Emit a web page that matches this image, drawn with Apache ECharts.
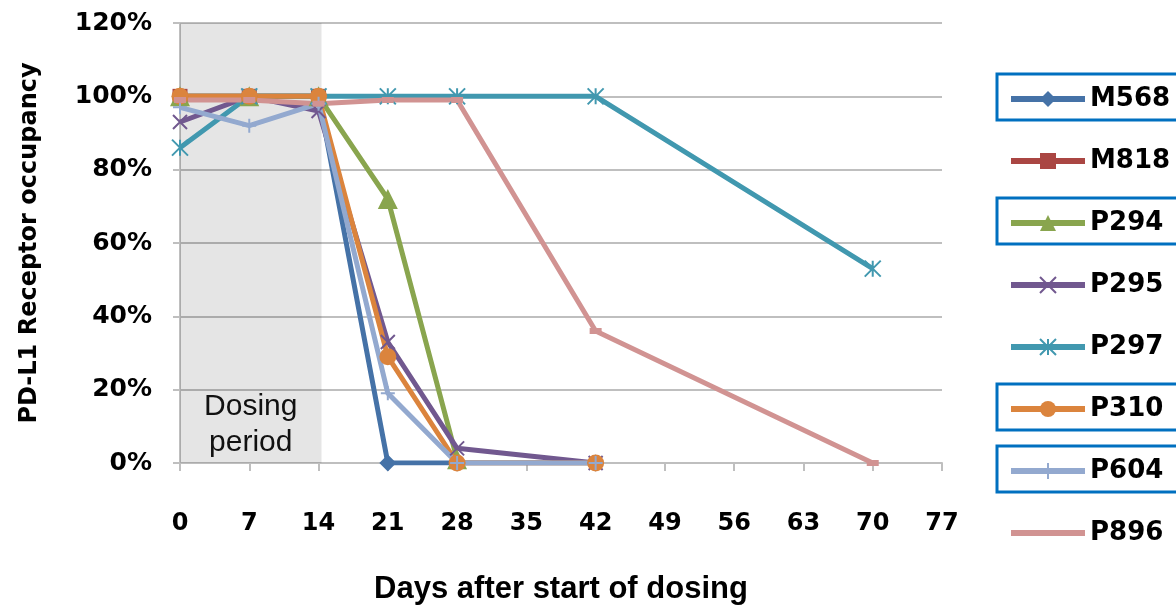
<!DOCTYPE html>
<html>
<head>
<meta charset="utf-8">
<script src="https://cdn.jsdelivr.net/npm/echarts@6/dist/echarts.min.js"></script>
<style>
  html, body { margin: 0; padding: 0; background: #fff; }
  #chart { width: 1176px; height: 606px; }
</style>
</head>
<body>
<div id="chart"></div>
<script>
// days of sampling
const days = [0, 7, 14, 21, 28, 42, 70]
const xTicks = [0, 7, 14, 21, 28, 35, 42, 49, 56, 63, 70, 77]

// receptor occupancy, percent (null = no sample)
const m568 = [100, 100, 100, 0, 0, 0, null]
const m818 = [100, 100, 100, null, null, null, null]
const p294 = [100, 100, 100, 72, 1, null, null]
const p295 = [93, 100, 96, 33, 4, 0, null]
const p297 = [86, 100, 100, 100, 100, 100, 53]
const p310 = [100, 100, 100, 29, 0, 0, null]
const p604 = [97, 92, 98, 19, 0, 0, null]
const p896 = [99, 99, 98, 99, 99, 36, 0]

const seriesNames = ['M568', 'M818', 'P294', 'P295', 'P297', 'P310', 'P604', 'P896']
const seriesValues = [m568, m818, p294, p295, p297, p310, p604, p896]
const boxedNames = ['M568', 'P294', 'P310', 'P604']

// dosing period shading
const dosingStart = 0
const dosingEnd = 14.3

const colors = ['#4572A7', '#AA4643', '#89A54E', '#71588F', '#4198AF', '#DB843D', '#93A9CF', '#D19392']
const symbols = [
  'diamond',
  'rect',
  'triangle',
  'path://M0,0L10,10M10,0L0,10',
  'path://M0,0L10,10M10,0L0,10M5,0L5,10',
  'circle',
  'path://M5,0L5,10M0,5L10,5',
  'rect'
]
const symbolSizes = [17, 15, 20, 14, 16, 17, 14, [12, 6]]
const strokeSymbol = [false, false, false, true, true, false, true, false]

const toPairs = vals => days.map((d, i) => [d, vals[i]]).filter(p => p[1] !== null)

const chart = echarts.init(document.getElementById('chart'))

const series = seriesNames.map((name, i) => {
  const s = {
    name: name,
    type: 'line',
    data: toPairs(seriesValues[i]),
    symbol: symbols[i],
    symbolSize: symbolSizes[i],
    showAllSymbol: true,
    lineStyle: { width: 5, color: colors[i] },
    itemStyle: strokeSymbol[i]
      ? { color: colors[i], borderColor: colors[i], borderWidth: 2 }
      : { color: colors[i] },
    emphasis: { disabled: true },
    animation: false
  }
  if (i === 0) {
    s.markArea = {
      silent: true,
      itemStyle: { color: 'rgba(0,0,0,0.1)' },
      label: {
        show: true,
        position: 'insideBottom',
        distance: 2,
        formatter: 'Dosing\nperiod',
        fontFamily: 'Liberation Sans',
        fontSize: 30,
        lineHeight: 36,
        color: '#111'
      },
      data: [[{ xAxis: dosingStart }, { xAxis: dosingEnd }]]
    }
  }
  return s
})

// blue highlight boxes round some legend items
const legendTop = 85
const legendStep = 62
const boxes = boxedNames.map(n => {
  const idx = seriesNames.indexOf(n)
  const cy = 97 + idx * legendStep
  return {
    type: 'rect',
    shape: { x: 997, y: cy - 23, width: 200, height: 46 },
    style: { fill: 'none', stroke: '#0070C0', lineWidth: 3 },
    z: 100
  }
})

const legendData = seriesNames.map(n => n === 'P896' ? { name: n, itemStyle: { opacity: 0 } } : n)

const option = {
  animation: false,
  color: colors,
  grid: { left: 180, right: 234, top: 23, bottom: 143, outerBoundsMode: 'none' },
  legend: {
    orient: 'vertical',
    left: 1008,
    top: legendTop,
    padding: 0,
    itemWidth: 74,
    itemHeight: 20,
    itemGap: legendStep - 28,
    selectedMode: false,
    data: legendData,
    lineStyle: { width: 6 },
    textStyle: {
      fontFamily: 'DejaVu Sans',
      fontWeight: 'bold',
      fontSize: 26,
      lineHeight: 28,
      color: '#000'
    }
  },
  xAxis: {
    type: 'value',
    min: 0,
    max: 77,
    interval: 7,
    name: 'Days after start of dosing',
    nameLocation: 'middle',
    nameGap: 111,
    nameTextStyle: {
      fontFamily: 'Liberation Sans',
      fontWeight: 'bold',
      fontSize: 31,
      color: '#000'
    },
    axisLine: { show: true, lineStyle: { color: '#BFBFBF', width: 2 } },
    axisTick: { show: true, length: 8, lineStyle: { color: '#BFBFBF', width: 2 } },
    splitLine: { show: false },
    axisLabel: {
      margin: 49,
      fontFamily: 'DejaVu Sans',
      fontWeight: 'bold',
      fontSize: 24,
      color: '#000',
      customValues: xTicks
    }
  },
  yAxis: {
    type: 'value',
    min: 0,
    max: 120,
    interval: 20,
    name: 'PD-L1 Receptor occupancy',
    nameLocation: 'middle',
    nameGap: 138,
    nameRotate: 90,
    nameTextStyle: {
      fontFamily: 'DejaVu Sans',
      fontWeight: 'bold',
      fontSize: 24,
      color: '#000'
    },
    axisLine: { show: true, lineStyle: { color: '#BFBFBF', width: 2 } },
    axisTick: { show: true, length: 7, lineStyle: { color: '#BFBFBF', width: 2 } },
    splitLine: { show: true, lineStyle: { color: '#BFBFBF', width: 2 } },
    axisLabel: {
      margin: 28,
      fontFamily: 'DejaVu Sans',
      fontWeight: 'bold',
      fontSize: 25,
      color: '#000',
      formatter: v => v + '%'
    }
  },
  graphic: boxes,
  series: series
}

chart.setOption(option)
</script>
</body>
</html>
